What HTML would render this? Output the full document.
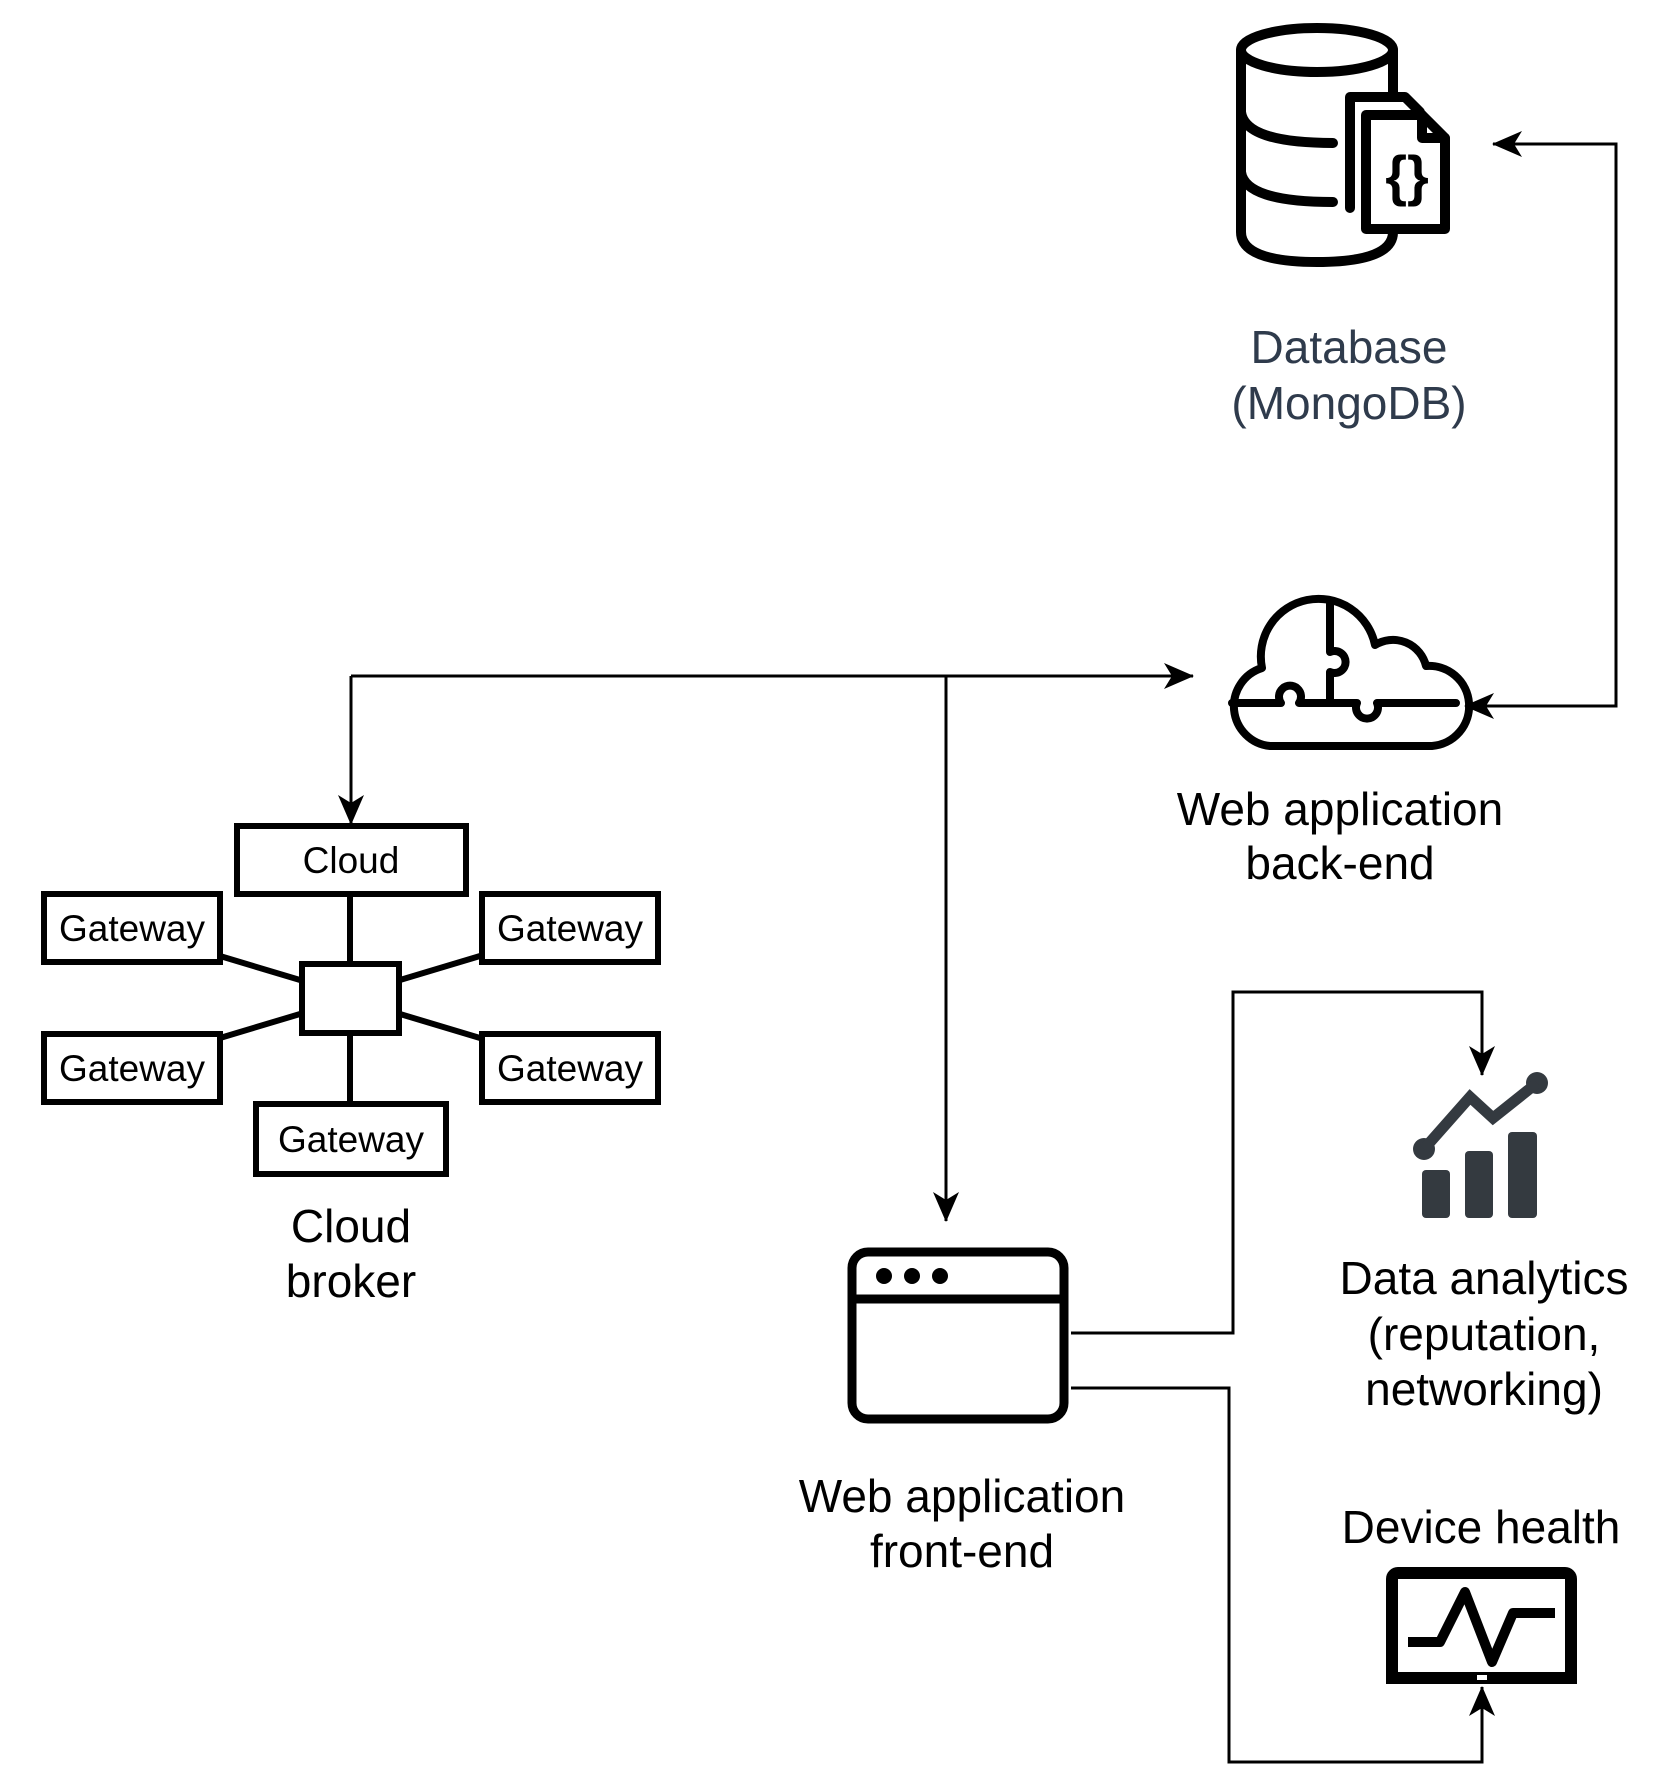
<!DOCTYPE html>
<html><head><meta charset="utf-8"><style>
html,body{margin:0;padding:0;background:#fff;}
svg{display:block;}
text{font-family:"Liberation Sans",Arial,sans-serif;}
</style></head><body>
<svg width="1658" height="1787" viewBox="0 0 1658 1787" xmlns="http://www.w3.org/2000/svg">
<defs>
<marker id="a" viewBox="0 0 30 26" refX="29" refY="13" markerWidth="30" markerHeight="26" markerUnits="userSpaceOnUse" orient="auto">
<path d="M0,0 L30,13 L0,26 L8,13 Z" fill="#000"/>
</marker>
</defs>
<g fill="none" stroke="#000" stroke-width="3">
<path d="M1495,144 H1616 V706 H1465" marker-end="url(#a)"/>
<path d="M1616,144 H1493" marker-end="url(#a)"/>
<path d="M351,676 H1193" marker-end="url(#a)"/>
<path d="M351,676 V824" marker-end="url(#a)"/>
<path d="M946,676 V1221" marker-end="url(#a)"/>
<path d="M1071,1333 H1233 V992 H1482 V1075" marker-end="url(#a)"/>
<path d="M1071,1388 H1229 V1762 H1482 V1687" marker-end="url(#a)"/>
</g>

<!-- Database icon -->
<g fill="none" stroke="#000" stroke-width="10" stroke-linejoin="round" stroke-linecap="round">
<ellipse cx="1317" cy="50" rx="76" ry="22"/>
<path d="M1241,50 V232 Q1241,262 1317,262 Q1393,262 1393,232 V220"/>
<path d="M1393,50 V92"/>
<path d="M1241,112 Q1245,143 1333,143"/>
<path d="M1241,172 Q1245,202 1333,202"/>
<path d="M1350,208 V97 H1405 L1420,112"/>
<path d="M1366,229 V115 H1422 L1445,138 V229 Z" fill="#fff"/>
<path d="M1422,115 V138 H1445"/>
</g>
<text x="1407" y="195" font-size="56" font-weight="bold" text-anchor="middle" fill="#000">{}</text>
<text x="1349" y="363" font-size="46" text-anchor="middle" fill="#2f3b4c">Database</text>
<text x="1349" y="419" font-size="46" text-anchor="middle" fill="#2f3b4c">(MongoDB)</text>

<!-- Cloud back-end icon -->
<g fill="none" stroke="#000" stroke-width="8" stroke-linejoin="round" stroke-linecap="round">
<path d="M1270,746 H1432 A40,40 0 0 0 1426,666 A34,34 0 0 0 1375,645 A57,57 0 0 0 1262,668 A40,40 0 0 0 1270,746 Z"/>
<path d="M1232,703 H1281 A11,11 0 1 1 1299,703 H1357 A11,11 0 1 0 1377,703 H1456"/>
<path d="M1330,604 V652 A11,11 0 1 1 1330,672 V703"/>
</g>
<text x="1340" y="825" font-size="46" text-anchor="middle">Web application</text>
<text x="1340" y="879" font-size="46" text-anchor="middle">back-end</text>

<!-- Cloud broker -->
<g fill="#fff" stroke="#000" stroke-width="6">
<line x1="350" y1="895" x2="350" y2="1103"/>
<line x1="220" y1="956" x2="300" y2="980"/>
<line x1="220" y1="1038" x2="300" y2="1014"/>
<line x1="480" y1="956" x2="400" y2="980"/>
<line x1="480" y1="1038" x2="400" y2="1014"/>
<rect x="237" y="826" width="229" height="68"/>
<rect x="44" y="894" width="176" height="68"/>
<rect x="482" y="894" width="176" height="68"/>
<rect x="44" y="1034" width="176" height="68"/>
<rect x="482" y="1034" width="176" height="68"/>
<rect x="256" y="1104" width="190" height="70"/>
<rect x="302" y="964" width="97" height="69"/>
</g>
<g font-size="37" text-anchor="middle">
<text x="351" y="873">Cloud</text>
<text x="132" y="941">Gateway</text>
<text x="570" y="941">Gateway</text>
<text x="132" y="1081">Gateway</text>
<text x="570" y="1081">Gateway</text>
<text x="351" y="1152">Gateway</text>
</g>
<text x="351" y="1242" font-size="46" text-anchor="middle">Cloud</text>
<text x="351" y="1297" font-size="46" text-anchor="middle">broker</text>

<!-- Front-end browser -->
<g fill="none" stroke="#000" stroke-width="9">
<rect x="852" y="1252" width="212" height="167" rx="16"/>
<line x1="852" y1="1299" x2="1064" y2="1299"/>
</g>
<circle cx="884" cy="1276" r="8"/><circle cx="912" cy="1276" r="8"/><circle cx="940" cy="1276" r="8"/>
<text x="962" y="1512" font-size="46" text-anchor="middle">Web application</text>
<text x="962" y="1567" font-size="46" text-anchor="middle">front-end</text>

<!-- Analytics -->
<g fill="#343a40">
<rect x="1422" y="1170" width="28" height="48" rx="4"/>
<rect x="1465" y="1151" width="28" height="67" rx="4"/>
<rect x="1508" y="1132" width="29" height="86" rx="4"/>
<circle cx="1424" cy="1149" r="11"/><circle cx="1537" cy="1083" r="11"/>
</g>
<polyline points="1424,1149 1470,1097 1493,1118 1537,1083" fill="none" stroke="#343a40" stroke-width="11" stroke-linejoin="miter"/>
<text x="1484" y="1294" font-size="46" text-anchor="middle">Data analytics</text>
<text x="1484" y="1350" font-size="46" text-anchor="middle">(reputation,</text>
<text x="1484" y="1405" font-size="46" text-anchor="middle">networking)</text>

<!-- Device health -->
<text x="1481" y="1543" font-size="46" text-anchor="middle">Device health</text>
<rect x="1392" y="1573" width="179" height="105" rx="6" fill="none" stroke="#000" stroke-width="12"/>
<rect x="1386" y="1672" width="191" height="12" fill="#000"/>
<rect x="1477" y="1675" width="10" height="5" fill="#fff"/>
<polyline points="1408,1642 1440,1642 1465,1592 1492,1662 1513,1613 1555,1613" fill="none" stroke="#000" stroke-width="10" stroke-linejoin="round"/>
</svg>
</body></html>
